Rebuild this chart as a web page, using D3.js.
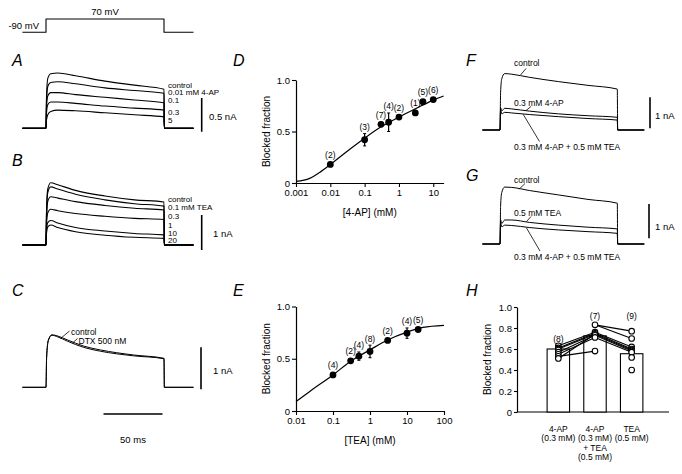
<!DOCTYPE html>
<html><head><meta charset="utf-8">
<script src="https://cdn.jsdelivr.net/npm/d3@7"></script>
<style>
body{margin:0;background:#fff}
svg{display:block;background:#fff}
text{font-family:"Liberation Sans",Arial,Helvetica,sans-serif;fill:#000}
</style>
</head><body>
<svg id="c" width="682" height="474"></svg>
<script>
// ---------- DATA ----------
// voltage protocol
const protoT = [-20, 0, 0, 100, 100, 125];
const protoV = [-90, -90, 70, 70, -90, -90];

// panel A (4-AP), current in nA
const tA = [-20, 0, 0.4, 1.5, 4, 10, 25, 50, 75, 100, 100.3, 125];
const aLabels = ["control", "0.01 mM 4-AP", "0.1", "0.3", "5"];
const aControl = [0, 0, 0.45, 0.74, 0.81, 0.82, 0.78, 0.70, 0.64, 0.58, 0, 0];
const a001 = [0, 0, 0.38, 0.62, 0.68, 0.69, 0.66, 0.60, 0.56, 0.52, 0, 0];
const a01 = [0, 0, 0.30, 0.48, 0.53, 0.53, 0.50, 0.46, 0.42, 0.38, 0, 0];
const a03 = [0, 0, 0.22, 0.35, 0.39, 0.39, 0.37, 0.33, 0.30, 0.27, 0, 0];
const a5 = [0, 0, 0.12, 0.20, 0.25, 0.27, 0.26, 0.23, 0.20, 0.17, 0, 0];

// panel B (TEA)
const bLabels = ["control", "0.1 mM TEA", "0.3", "1", "10", "20"];
const bControl = [0, 0, 0.9, 1.6, 1.78, 1.72, 1.56, 1.40, 1.29, 1.23, 0, 0];
const b01 = [0, 0, 0.85, 1.5, 1.66, 1.60, 1.45, 1.29, 1.18, 1.11, 0, 0];
const b03 = [0, 0, 0.7, 1.25, 1.38, 1.34, 1.24, 1.13, 1.05, 1.0, 0, 0];
const b1 = [0, 0, 0.55, 0.92, 1.02, 0.98, 0.90, 0.82, 0.76, 0.73, 0, 0];
const b10 = [0, 0, 0.4, 0.64, 0.70, 0.63, 0.50, 0.40, 0.33, 0.29, 0, 0];
const b20 = [0, 0, 0.32, 0.52, 0.57, 0.50, 0.38, 0.28, 0.22, 0.19, 0, 0];

// panel C (DTX)
const tC = [-20, 0, 0.5, 2, 5, 10, 18, 32, 46, 74, 100, 100.3, 125];
const cControl = [0, 0, 0.7, 1.12, 1.25, 1.22, 1.13, 0.98, 0.89, 0.77, 0.69, 0, 0];
const cDTX = [0, 0, 0.7, 1.12, 1.24, 1.20, 1.10, 0.95, 0.86, 0.75, 0.68, 0, 0];

// panels F, G
const tF = [-15, 0, 0.5, 1.5, 4, 10, 25, 50, 75, 100, 100.3, 123];
const fControl = [0, 0, 1.2, 1.65, 1.82, 1.80, 1.70, 1.56, 1.44, 1.32, 0, 0];
const f4AP = [0, 0, 0.72, 0.62, 0.70, 0.68, 0.61, 0.52, 0.46, 0.41, 0, 0];
const fBoth = [0, 0, 0.65, 0.52, 0.57, 0.55, 0.50, 0.43, 0.37, 0.32, 0, 0];
const gControl = [0, 0, 1.1, 1.5, 1.66, 1.65, 1.56, 1.43, 1.30, 1.19, 0, 0];
const gTEA = [0, 0, 0.70, 0.60, 0.70, 0.70, 0.63, 0.55, 0.49, 0.44, 0, 0];
const gBoth = [0, 0, 0.62, 0.50, 0.55, 0.54, 0.48, 0.41, 0.36, 0.31, 0, 0];

// panel D: 4-AP dose response
const dConc = [0.01, 0.1, 0.3, 0.5, 1, 3, 5, 10];
const dFrac = [0.18, 0.42, 0.57, 0.59, 0.64, 0.68, 0.79, 0.81];
const dErr = [0.01, 0.06, 0.02, 0.09, 0.015, 0.02, 0.02, 0.01];
const dN = ["(2)", "(3)", "(7)", "(4)", "(2)", "(1)", "(5)", "(6)"];
const dFitConc = [0.001, 0.0025, 0.005, 0.01, 0.024, 0.1, 0.3, 1, 3, 10, 20];
const dFitFrac = [0.015, 0.045, 0.105, 0.18, 0.28, 0.435, 0.545, 0.64, 0.72, 0.805, 0.845];
const dTicks = [0.001, 0.01, 0.1, 1, 10];
const dTickLabels = ["0.001", "0.01", "0.1", "1", "10"];

// panel E: TEA dose response
const eConc = [0.1, 0.3, 0.5, 1, 3, 10, 20];
const eFrac = [0.345, 0.48, 0.525, 0.57, 0.675, 0.745, 0.78];
const eErr = [0.02, 0.015, 0.04, 0.06, 0.015, 0.05, 0.015];
const eN = ["(4)", "(2)", "(4)", "(8)", "(2)", "(4)", "(5)"];
const eFitConc = [0.01, 0.024, 0.1, 0.3, 1, 3, 10, 27, 100];
const eFitFrac = [0.09, 0.19, 0.345, 0.476, 0.585, 0.68, 0.755, 0.8, 0.82];
const eTicks = [0.01, 0.1, 1, 10, 100];
const eTickLabels = ["0.01", "0.1", "1", "10", "100"];

const fracTicks = [0, 0.5, 1];
const fracTickLabels = ["0", "0.5", "1.0"];

// panel H
const hCats = ["4-AP", "4-AP+TEA", "TEA"];
const hCatLabels = [["4-AP", "(0.3 mM)"], ["4-AP", "(0.3 mM)", "+ TEA", "(0.5 mM)"], ["TEA", "(0.5 mM)"]];
const hMeans = [0.60, 0.725, 0.555];
const hN = ["(8)", "(7)", "(9)"];
const hCells1 = [0.63, 0.61, 0.60, 0.59, 0.57, 0.55, 0.53, 0.51];
const hCells2 = [0.83, 0.76, 0.75, 0.74, 0.73, 0.71, 0.58];
const hCells3 = [0.77, 0.70, 0.62, 0.60, 0.59, 0.58, 0.57, 0.52, 0.40];
const hLinks12 = [[0.63, 0.76], [0.61, 0.75], [0.60, 0.74], [0.57, 0.73], [0.55, 0.71], [0.53, 0.58], [0.51, 0.74]];
const hLinks23 = [[0.83, 0.77], [0.83, 0.70], [0.76, 0.62], [0.75, 0.60], [0.74, 0.59], [0.73, 0.58], [0.71, 0.57]];
const hTicks = [0, 0.2, 0.4, 0.6, 0.8, 1.0];
const hTickLabels = ["0", "0.2", "0.4", "0.6", "0.8", "1.0"];

// ---------- DRAWING ----------
const svg = d3.select("#c");
const FS = 8.5;

function txt(x, y, s, opt = {}) {
  const t = svg.append("text").attr("x", x).attr("y", y).text(s)
    .attr("font-size", opt.size || FS);
  if (opt.anchor) t.attr("text-anchor", opt.anchor);
  if (opt.italic) t.attr("font-style", "italic");
  if (opt.rotate) t.attr("transform", `rotate(-90,${x},${y})`);
  return t;
}
function seg(x1, y1, x2, y2, w = 1) {
  svg.append("line").attr("x1", x1).attr("y1", y1).attr("x2", x2).attr("y2", y2)
    .attr("stroke", "#000").attr("stroke-width", w);
}
function trace(t, v, xs, ys, curve = d3.curveMonotoneX, w = 1.1) {
  const line = d3.line().x(d => xs(d[0])).y(d => ys(d[1])).curve(curve);
  svg.append("path").datum(t.map((d, i) => [d, v[i]]))
    .attr("d", line).attr("fill", "none").attr("stroke", "#000")
    .attr("stroke-width", w).attr("stroke-linejoin", "round");
}

// panel letters
[["A", 12, 66], ["B", 12, 166], ["C", 12, 296], ["D", 233, 66], ["E", 233, 296],
 ["F", 466, 66], ["G", 466, 181], ["H", 466, 296]].forEach(([s, x, y]) =>
  txt(x, y, s, { size: 16, italic: true }));

// time scales
const tL = d3.scaleLinear().domain([0, 100]).range([46, 164]);
const tR = d3.scaleLinear().domain([0, 100]).range([500, 617.3]);

// voltage protocol
const vS = d3.scaleLinear().domain([-90, 70]).range([32.3, 19]);
trace(protoT, protoV, tL, vS, d3.curveLinear, 1.1);
txt(39, 29, "-90 mV", { size: 9.5, anchor: "end" });
txt(105, 15, "70 mV", { size: 9.5, anchor: "middle" });

function scaleBar(x, yBottom, ys, nA, label, lx, ly) {
  const len = ys(0) - ys(nA);
  seg(x, yBottom, x, yBottom - len, 1.6);
  txt(lx, ly, label, { size: 9.5 });
}

// panel A
const yA = d3.scaleLinear().domain([0, 0.5]).range([128.3, 94.6]);
[aControl, a001, a01, a03, a5].forEach(v => trace(tA, v, tL, yA));
const aLabY = [88, 94.5, 103, 115, 123];
aLabels.forEach((s, i) => txt(168, aLabY[i], s, { size: 8 }));
scaleBar(201.7, 131.7, yA, 0.5, "0.5 nA", 209, 119.5);

// panel B
const yB = d3.scaleLinear().domain([0, 1]).range([245, 210]);
[bControl, b01, b03, b1, b10, b20].forEach(v => trace(tA, v, tL, yB));
const bLabY = [202, 210, 219, 228, 236, 243];
bLabels.forEach((s, i) => txt(168, bLabY[i], s, { size: 8 }));
scaleBar(201.7, 250, yB, 1, "1 nA", 213, 237);

// panel C
const yC = d3.scaleLinear().domain([0, 1]).range([387.3, 345.3]);
trace(tC, cControl, tL, yC, d3.curveMonotoneX, 1);
trace(tC, cDTX, tL, yC, d3.curveMonotoneX, 1);
txt(71, 334.5, "control");
seg(69.5, 331, 60.5, 338.5, 0.8);
txt(78.5, 343.5, "DTX 500 nM");
seg(77.5, 338.5, 72.5, 343, 0.8);
scaleBar(201, 389.3, yC, 1, "1 nA", 213, 374);
// 50 ms bar
{
  const x1 = 162.5, len = tL(50) - tL(0);
  seg(x1 - len, 414, x1, 414, 1.6);
  txt(x1 - len / 2, 443, "50 ms", { size: 9.5, anchor: "middle" });
}

// panel F
const yF = d3.scaleLinear().domain([0, 1]).range([130, 99]);
[fControl, f4AP, fBoth].forEach(v => trace(tF, v, tR, yF, d3.curveMonotoneX, 1));
txt(514, 66, "control"); seg(520.5, 75, 526, 68.5, 0.8);
txt(514, 105.5, "0.3 mM 4-AP"); seg(526, 110.5, 531, 106.5, 0.8);
txt(514, 150, "0.3 mM 4-AP + 0.5 mM TEA"); seg(523.3, 114.5, 539.5, 141.5, 0.8);
scaleBar(650, 128.3, yF, 1, "1 nA", 655, 119);

// panel G
const yG = d3.scaleLinear().domain([0, 1]).range([244, 209.7]);
[gControl, gTEA, gBoth].forEach(v => trace(tF, v, tR, yG, d3.curveMonotoneX, 1));
txt(514, 183, "control"); seg(519.3, 189, 525, 183.5, 0.8);
txt(514, 215.5, "0.5 mM TEA"); seg(526.5, 221.5, 531, 216.5, 0.8);
txt(514, 260, "0.3 mM 4-AP + 0.5 mM TEA"); seg(526.5, 228, 540, 251, 0.8);
scaleBar(649, 238.3, yG, 1, "1 nA", 655, 230);

// dose-response panels
function styleAxis(g) {
  g.select(".domain").attr("stroke-width", 1.2);
  g.selectAll(".tick line").attr("stroke-width", 1.1);
  g.selectAll("text").attr("font-size", 9.5).attr("font-family", '"Liberation Sans",Arial,sans-serif');
}
function doseResponse(xs, ys, ticks, tickLabels, conc, frac, err, nLab, fitC, fitF, xLabel, x0, yBase) {
  const gx = svg.append("g").attr("transform", `translate(0,${yBase})`)
    .call(d3.axisBottom(xs).tickValues(ticks).tickFormat((d, i) => tickLabels[i]).tickSize(4).tickSizeOuter(0).tickPadding(2));
  styleAxis(gx);
  const gy = svg.append("g").attr("transform", `translate(${x0},0)`)
    .call(d3.axisLeft(ys).tickValues(fracTicks).tickFormat((d, i) => fracTickLabels[i]).tickSize(4).tickSizeOuter(0).tickPadding(2));
  styleAxis(gy);
  // fit
  trace(fitC, fitF, xs, ys, d3.curveMonotoneX, 1.2);
  // error bars
  conc.forEach((c, i) => {
    const x = xs(c);
    seg(x, ys(frac[i] - err[i]), x, ys(frac[i] + err[i]), 1.2);
    seg(x - 1.5, ys(frac[i] + err[i]), x + 1.5, ys(frac[i] + err[i]), 1);
    seg(x - 1.5, ys(frac[i] - err[i]), x + 1.5, ys(frac[i] - err[i]), 1);
  });
  svg.append("g").selectAll("circle").data(conc).join("circle")
    .attr("cx", d => xs(d)).attr("cy", (d, i) => ys(frac[i])).attr("r", 3.4).attr("fill", "#000");
  conc.forEach((c, i) => {
    const y = Math.min(ys(frac[i]) - 6.5, ys(frac[i] + err[i]) - 3.5);
    txt(xs(c), y, nLab[i], { anchor: "middle" });
  });
  txt((xs.range()[0] + xs.range()[1]) / 2, yBase + 33, xLabel, { size: 10, anchor: "middle" });
  txt(x0 - 26, (ys(0) + ys(1)) / 2, "Blocked fraction", { size: 10, anchor: "middle", rotate: true });
}

const xD = d3.scaleLog().domain([0.001, 20]).range([296, 443.6]);
const yD = d3.scaleLinear().domain([0, 1]).range([183, 80]);
doseResponse(xD, yD, dTicks, dTickLabels, dConc, dFrac, dErr, dN, dFitConc, dFitFrac, "[4-AP] (mM)", 296, 183);

const xE = d3.scaleLog().domain([0.01, 100]).range([296, 444]);
const yE = d3.scaleLinear().domain([0, 1]).range([411, 306.5]);
doseResponse(xE, yE, eTicks, eTickLabels, eConc, eFrac, eErr, eN, eFitConc, eFitFrac, "[TEA] (mM)", 296, 411);

// panel H
const yH = d3.scaleLinear().domain([0, 1]).range([412, 307]);
const xH = d3.scaleBand().domain(hCats).range([540, 650]).paddingInner(0.388).paddingOuter(0.194);
const gyH = svg.append("g").attr("transform", "translate(517,0)")
  .call(d3.axisLeft(yH).tickValues(hTicks).tickFormat((d, i) => hTickLabels[i]).tickSize(3).tickSizeOuter(0).tickPadding(2));
styleAxis(gyH);
seg(517, 412, 669, 412, 1.2);
svg.append("g").selectAll("rect").data(hCats).join("rect")
  .attr("x", d => xH(d)).attr("width", xH.bandwidth())
  .attr("y", (d, i) => yH(hMeans[i])).attr("height", (d, i) => yH(0) - yH(hMeans[i]))
  .attr("fill", "#fff").attr("stroke", "#000").attr("stroke-width", 1.1);
const cx = i => xH(hCats[i]) + xH.bandwidth() / 2;
hLinks12.forEach(([a, b]) => seg(cx(0), yH(a), cx(1), yH(b), 1.1));
hLinks23.forEach(([a, b]) => seg(cx(1), yH(a), cx(2), yH(b), 1.1));
[hCells1, hCells2, hCells3].forEach((cells, i) => {
  svg.append("g").selectAll("circle").data(cells).join("circle")
    .attr("cx", cx(i)).attr("cy", d => yH(d)).attr("r", 2.8)
    .attr("fill", "#fff").attr("stroke", "#000").attr("stroke-width", 1.1);
});
const hNY = [342, 319, 319];
hN.forEach((s, i) => txt(cx(i), hNY[i], s, { anchor: "middle" }));
hCatLabels.forEach((lines, i) => lines.forEach((s, j) =>
  txt(cx(i), 431.5 + j * 9.5, s, { anchor: "middle" })));
txt(491, (yH(0) + yH(1)) / 2, "Blocked fraction", { size: 10, anchor: "middle", rotate: true });
</script>
</body></html>
